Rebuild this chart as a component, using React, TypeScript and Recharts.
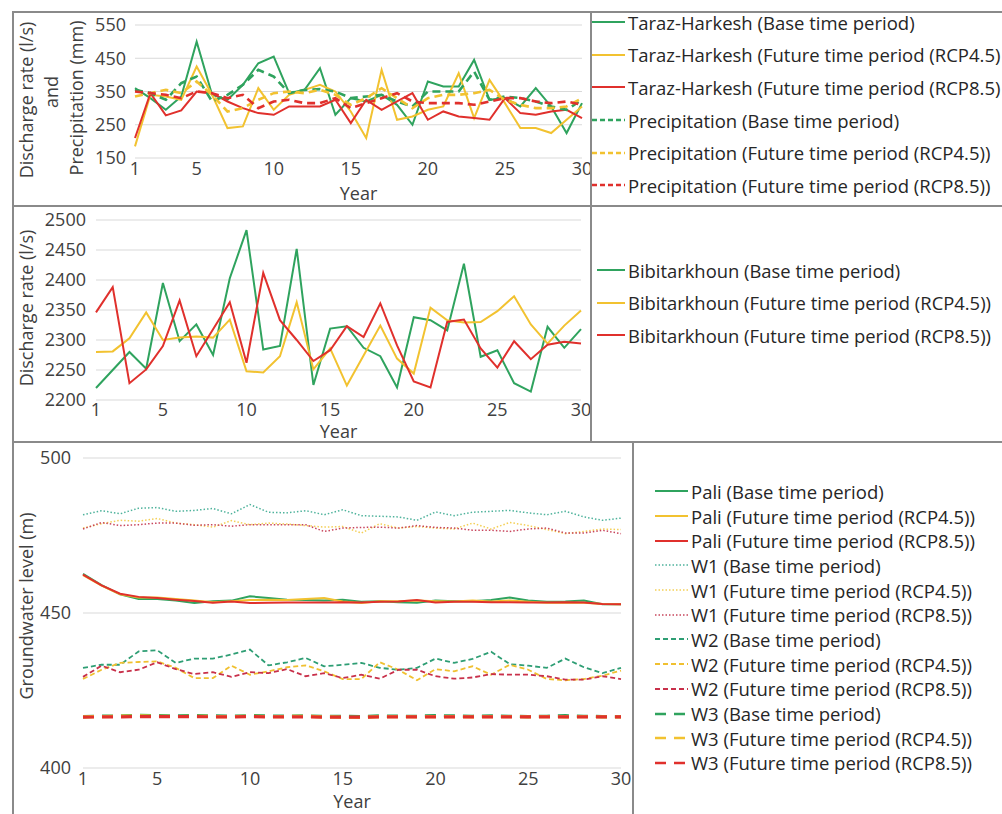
import { LineChart, Line, XAxis, YAxis, CartesianGrid } from 'recharts';

const years = [1, 2, 3, 4, 5, 6, 7, 8, 9, 10, 11, 12, 13, 14, 15, 16, 17, 18, 19, 20, 21, 22, 23, 24, 25, 26, 27, 28, 29, 30];
const yearTicks = [1, 5, 10, 15, 20, 25, 30];

// Taraz-Harkesh discharge + precipitation
const tarazBase = [360, 330, 295, 335, 500, 340, 325, 370, 435, 455, 345, 355, 420, 280, 330, 320, 340, 310, 250, 380, 365, 365, 445, 325, 330, 305, 360, 305, 225, 315];
const tarazRcp45 = [185, 340, 335, 325, 425, 340, 240, 245, 360, 295, 340, 355, 370, 350, 290, 210, 415, 265, 275, 295, 305, 405, 270, 385, 315, 240, 240, 225, 265, 305];
const tarazRcp85 = [210, 345, 278, 293, 350, 345, 320, 300, 285, 280, 305, 305, 305, 325, 255, 325, 295, 320, 345, 265, 290, 275, 270, 265, 330, 285, 280, 290, 295, 270];
const precipBase = [355, 345, 325, 375, 395, 320, 340, 370, 415, 395, 345, 355, 357, 350, 330, 335, 340, 320, 305, 350, 350, 350, 410, 325, 335, 330, 320, 305, 295, 325];
const precipRcp45 = [335, 345, 355, 345, 380, 340, 290, 300, 325, 345, 350, 345, 355, 340, 310, 330, 360, 330, 300, 330, 340, 340, 345, 355, 325, 310, 300, 300, 305, 330];
const precipRcp85 = [350, 345, 340, 330, 350, 345, 330, 340, 300, 320, 325, 315, 315, 330, 300, 315, 330, 345, 320, 315, 315, 315, 310, 320, 330, 330, 320, 315, 320, 310];

// Bibitarkhoun discharge
const bibiBase = [2220, 2250, 2280, 2252, 2395, 2298, 2326, 2275, 2403, 2483, 2284, 2290, 2452, 2225, 2319, 2323, 2287, 2273, 2221, 2338, 2333, 2316, 2427, 2272, 2283, 2228, 2214, 2322, 2287, 2318];
const bibiRcp45 = [2280, 2281, 2303, 2346, 2300, 2304, 2306, 2304, 2334, 2248, 2246, 2273, 2363, 2251, 2286, 2224, 2274, 2324, 2269, 2244, 2354, 2333, 2329, 2330, 2348, 2373, 2326, 2294, 2324, 2349];
const bibiRcp85 = [2346, 2388, 2228, 2251, 2290, 2366, 2273, 2318, 2363, 2262, 2412, 2333, 2300, 2265, 2283, 2323, 2305, 2361, 2291, 2231, 2221, 2330, 2334, 2286, 2254, 2298, 2268, 2292, 2297, 2294];

// Groundwater levels
const paliBase = [462.6, 459, 456, 454.5, 454.5, 454, 453.2, 453.8, 454, 455.4, 454.8, 454.3, 454.2, 454, 454.3, 453.6, 453.8, 453.5, 453.3, 454, 453.8, 453.8, 454.2, 455, 454, 453.6, 453.7, 454, 452.8, 452.8];
const paliRcp45 = [462.2, 458.8, 456, 455, 455, 454.5, 454, 453.5, 453.8, 454.2, 454.3, 454.2, 454.5, 454.8, 453.7, 453.2, 453.8, 453.8, 454, 453.8, 453.7, 454, 453.7, 454, 453.6, 453.3, 453.3, 453.3, 452.9, 452.8];
const paliRcp85 = [462.4, 458.9, 456.2, 455.2, 454.8, 454.3, 453.9, 453.3, 453.7, 453.2, 453.3, 453.4, 453.4, 453.4, 453.5, 453.4, 453.6, 453.7, 454.2, 453.4, 453.6, 453.6, 453.5, 453.5, 453.4, 453.4, 453.5, 453.4, 452.9, 452.8];
const w1Base = [481.7, 483, 482, 483.8, 484, 482.8, 483.1, 483.7, 482, 485, 482.5, 482.3, 483, 481.7, 483.3, 481.4, 481.2, 481, 479.9, 482.6, 481.4, 482.5, 482.8, 483.1, 482.3, 481.7, 482.8, 481, 479.9, 480.6];
const w1Rcp45 = [477.4, 478.8, 479.9, 479.6, 480.5, 479, 478.5, 477.7, 479.8, 478.5, 479, 478.7, 478.2, 477.7, 477.9, 475.8, 478.8, 477.4, 477.9, 477.4, 477.1, 479, 477.1, 479.2, 478.2, 476.9, 475.6, 476.3, 477.1, 476.9];
const w1Rcp85 = [477.1, 479.2, 478.2, 478.5, 479, 479, 478.3, 478.5, 478, 478.5, 478.5, 478.5, 478.5, 476.3, 477.4, 477.6, 477.7, 477.4, 478.2, 477.6, 477.4, 476.7, 476.7, 476.3, 477.1, 477.4, 475.8, 475.8, 476.7, 475.6];
const w2Base = [432.3, 433.3, 433.3, 437.6, 438, 433.9, 435.3, 435.3, 436.6, 438.2, 433.1, 434.1, 435.5, 432.8, 433.3, 433.9, 432.3, 431.7, 432.3, 435.3, 433.9, 435.2, 437.5, 433.5, 433, 432.3, 435.3, 432.5, 430.6, 432.3];
const w2Rcp45 = [428.7, 431.7, 433.9, 434.2, 434.4, 432.3, 429, 429, 433, 430.1, 431.2, 432.5, 433.1, 431.2, 428.7, 428.7, 434.1, 431.7, 428.3, 431.9, 431.2, 432.8, 430.1, 433.3, 431.7, 428.7, 428.3, 428.7, 429.8, 431.4];
const w2Rcp85 = [429.4, 433, 430.9, 431.7, 434.1, 431.9, 430.3, 430.9, 429.4, 430.9, 430.6, 431.9, 429.6, 430.6, 429, 430.1, 428.8, 431.7, 431.7, 429.6, 428.8, 429.2, 430.3, 430.1, 430.1, 429.6, 428.5, 428.5, 429.6, 428.7];
const w3Base = [416.6, 416.7, 416.8, 417, 416.9, 416.8, 416.9, 416.8, 416.7, 416.9, 416.8, 416.7, 416.8, 416.6, 416.7, 416.6, 416.8, 416.7, 416.7, 416.9, 416.8, 416.7, 416.8, 416.7, 416.6, 416.7, 416.9, 416.7, 416.6, 416.6];
const w3Rcp45 = [416.5, 416.6, 416.7, 416.8, 416.7, 416.6, 416.7, 416.6, 416.6, 416.7, 416.6, 416.6, 416.7, 416.5, 416.4, 416.3, 416.6, 416.6, 416.5, 416.6, 416.6, 416.5, 416.6, 416.6, 416.5, 416.6, 416.5, 416.6, 416.5, 416.5];
const w3Rcp85 = [416.4, 416.5, 416.5, 416.6, 416.6, 416.6, 416.6, 416.5, 416.5, 416.6, 416.5, 416.5, 416.5, 416.4, 416.4, 416.4, 416.5, 416.5, 416.5, 416.5, 416.5, 416.5, 416.5, 416.5, 416.5, 416.5, 416.5, 416.5, 416.5, 416.5];

const GREEN = '#2fa35e';
const YELLOW = '#f2c230';
const RED = '#e0302c';
const FONT = '"Open Sans", sans-serif';
const INK = '#404040';
const RULE = '#8a8a8a';

type Series = { key: string; name: string; values: number[]; color: string; dash?: string; width: number; legendDash?: string };

const topSeries: Series[] = [
  { key: 'tb', name: 'Taraz-Harkesh (Base time period)', values: tarazBase, color: GREEN, width: 2 },
  { key: 't45', name: 'Taraz-Harkesh (Future time period (RCP4.5)', values: tarazRcp45, color: YELLOW, width: 2 },
  { key: 't85', name: 'Taraz-Harkesh (Future time period (RCP8.5)', values: tarazRcp85, color: RED, width: 2 },
  { key: 'pb', name: 'Precipitation (Base time period)', values: precipBase, color: GREEN, dash: '8 5', width: 2.6, legendDash: '5 3' },
  { key: 'p45', name: 'Precipitation (Future time period (RCP4.5))', values: precipRcp45, color: YELLOW, dash: '8 5', width: 2.6, legendDash: '5 3' },
  { key: 'p85', name: 'Precipitation (Future time period (RCP8.5))', values: precipRcp85, color: RED, dash: '8 5', width: 2.6, legendDash: '5 3' },
];

const midSeries: Series[] = [
  { key: 'bb', name: 'Bibitarkhoun (Base time period)', values: bibiBase, color: GREEN, width: 2 },
  { key: 'b45', name: 'Bibitarkhoun (Future time period (RCP4.5))', values: bibiRcp45, color: YELLOW, width: 2 },
  { key: 'b85', name: 'Bibitarkhoun (Future time period (RCP8.5))', values: bibiRcp85, color: RED, width: 2 },
];

const lowSeries: Series[] = [
  { key: 'pab', name: 'Pali (Base time period)', values: paliBase, color: GREEN, width: 2 },
  { key: 'pa45', name: 'Pali (Future time period (RCP4.5))', values: paliRcp45, color: YELLOW, width: 2 },
  { key: 'pa85', name: 'Pali (Future time period (RCP8.5))', values: paliRcp85, color: RED, width: 2 },
  { key: 'w1b', name: 'W1 (Base time period)', values: w1Base, color: '#4fb39c', dash: '1.5 2', width: 1.5 },
  { key: 'w145', name: 'W1 (Future time period (RCP4.5))', values: w1Rcp45, color: '#f4cf55', dash: '1.5 2', width: 1.5 },
  { key: 'w185', name: 'W1 (Future time period (RCP8.5))', values: w1Rcp85, color: '#c8455c', dash: '1.5 2', width: 1.5 },
  { key: 'w2b', name: 'W2 (Base time period)', values: w2Base, color: '#2e9e74', dash: '5 3', width: 1.8 },
  { key: 'w245', name: 'W2 (Future time period (RCP4.5))', values: w2Rcp45, color: '#f0c030', dash: '5 3', width: 1.8 },
  { key: 'w285', name: 'W2 (Future time period (RCP8.5))', values: w2Rcp85, color: '#c8304a', dash: '5 3', width: 1.8 },
  { key: 'w3b', name: 'W3 (Base time period)', values: w3Base, color: GREEN, dash: '11 8', width: 3.2 },
  { key: 'w345', name: 'W3 (Future time period (RCP4.5))', values: w3Rcp45, color: YELLOW, dash: '11 8', width: 3.2 },
  { key: 'w385', name: 'W3 (Future time period (RCP8.5))', values: w3Rcp85, color: RED, dash: '11 8', width: 3.2 },
];

function rows(series: Series[]) {
  return years.map((year, i) => {
    const row: Record<string, number> = { year };
    series.forEach((s) => (row[s.key] = s.values[i]));
    return row;
  });
}

type PanelProps = {
  left: number; top: number; width: number; height: number;
  margin: { top: number; right: number; bottom: number; left: number };
  series: Series[]; domain: [number, number]; yTicks: number[];
  yMargin: number; xMargin: number; yearOffset: number;
};

function Panel(p: PanelProps) {
  const tick = { fill: INK, fontSize: 18, fontFamily: FONT };
  return (
    <div style={{ position: 'absolute', left: p.left, top: p.top }}>
      <LineChart width={p.width} height={p.height} data={rows(p.series)} margin={p.margin}>
        <CartesianGrid vertical={false} stroke="#d9d9d9" strokeWidth={1} />
        <XAxis dataKey="year" type="number" domain={[1, 30]} ticks={yearTicks} axisLine={false} tickLine={false}
          tickSize={0} tickMargin={p.xMargin} height={45} tick={tick} interval={0}
          label={{ value: 'Year', position: 'insideBottom', offset: p.yearOffset, fill: INK, fontSize: 18, fontFamily: FONT }} />
        <YAxis type="number" domain={p.domain} ticks={p.yTicks} axisLine={false} tickLine={false}
          tickSize={0} tickMargin={p.yMargin} width={60} tick={tick} interval={0} />
        {p.series.map((s) => (
          <Line key={s.key} type="linear" dataKey={s.key} name={s.name} stroke={s.color} strokeWidth={s.width}
            strokeDasharray={s.dash} dot={false} activeDot={false} isAnimationActive={false} />
        ))}
      </LineChart>
    </div>
  );
}

function LegendBox({ series, left, top, row, sample, fontSize }: { series: Series[]; left: number; top: number; row: number; sample: number; fontSize: number }) {
  return (
    <div style={{ position: 'absolute', left, top, fontFamily: FONT, fontSize, color: '#262626' }}>
      {series.map((s) => (
        <div key={s.key} style={{ height: row, display: 'flex', alignItems: 'center', whiteSpace: 'nowrap' }}>
          <svg width={sample} height={6} style={{ marginRight: 3, flexShrink: 0 }}>
            <line x1={0} y1={3} x2={sample} y2={3} stroke={s.color} strokeWidth={Math.min(s.width, 2.5)}
              strokeDasharray={s.legendDash ?? s.dash} />
          </svg>
          <span>{s.name}</span>
        </div>
      ))}
    </div>
  );
}

function VLabel({ text, x, y }: { text: string; x: number; y: number }) {
  return (
    <div style={{ position: 'absolute', left: x, top: y, transform: 'translate(-50%, -50%) rotate(-90deg)', whiteSpace: 'nowrap',
      fontFamily: FONT, fontSize: 18, color: INK, lineHeight: 1.2 }}>{text}</div>
  );
}

function Rule({ x, y, w, h }: { x: number; y: number; w: number; h: number }) {
  return <div style={{ position: 'absolute', left: x, top: y, width: w, height: h, background: RULE }} />;
}

export default function App() {
  return (
    <div style={{ position: 'absolute', left: 0, top: 0, width: 1002, height: 814, background: '#fff', overflow: 'hidden' }}>
      <Panel left={0} top={0} width={600} height={210} margin={{ top: 25, right: 18, bottom: 7, left: 75 }}
        series={topSeries} domain={[150, 550]} yTicks={[150, 250, 350, 450, 550]} yMargin={9} xMargin={4} yearOffset={3} />
      <Panel left={0} top={205} width={600} height={240} margin={{ top: 15, right: 19, bottom: 0, left: 36 }}
        series={midSeries} domain={[2200, 2500]} yTicks={[2200, 2250, 2300, 2350, 2400, 2450, 2500]} yMargin={10} xMargin={3} yearOffset={7} />
      <Panel left={0} top={440} width={640} height={374} margin={{ top: 18, right: 19, bottom: 1, left: 23 }}
        series={lowSeries} domain={[400, 500]} yTicks={[400, 450, 500]} yMargin={12} xMargin={4} yearOffset={5} />

      <VLabel text="Discharge rate (l/s)" x={27} y={100} />
      <VLabel text="and" x={52} y={92} />
      <VLabel text="Precipitation (mm)" x={77} y={98} />
      <VLabel text="Discharge rate (l/s)" x={27} y={308} />
      <VLabel text="Groundwater level (m)" x={27} y={606} />

      <LegendBox series={topSeries} left={592} top={6} row={32.6} sample={33} fontSize={18.5} />
      <LegendBox series={midSeries} left={597} top={254} row={32.5} sample={28} fontSize={18.4} />
      <LegendBox series={lowSeries} left={655} top={479} row={24.7} sample={33} fontSize={18.5} />

      <Rule x={12} y={11} w={990} h={2} />
      <Rule x={12} y={11} w={2} h={803} />
      <Rule x={590} y={11} w={2} h={431} />
      <Rule x={12} y={205} w={990} h={2} />
      <Rule x={12} y={441} w={990} h={2} />
      <Rule x={632} y={441} w={2} h={373} />
    </div>
  );
}
